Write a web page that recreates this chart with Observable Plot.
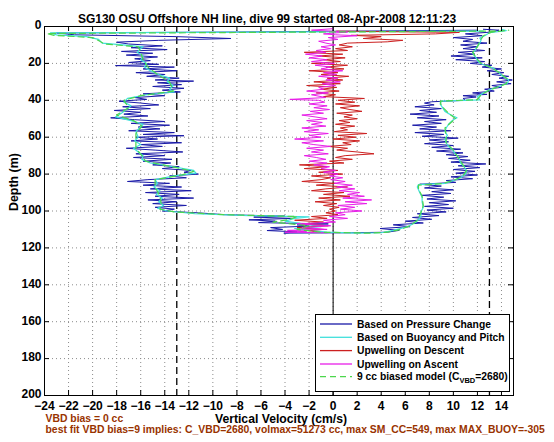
<!DOCTYPE html>
<html>
<head>
<meta charset="utf-8">
<script src="https://cdn.jsdelivr.net/npm/d3@7"></script>
<script src="https://cdn.jsdelivr.net/npm/@observablehq/plot@0.6"></script>
<style>
  html, body { margin: 0; padding: 0; background: #fff; }
  #wrap { position: relative; width: 554px; height: 442px; overflow: hidden; }
  #legend { position: absolute; left: 315px; top: 314px; }
</style>
</head>
<body>
<div id="wrap"><div id="chart"></div><svg id="legend" width="196" height="79"></svg></div>
<script>
// ---- text ----
const titleText = "SG130 OSU Offshore NH line, dive 99 started 08-Apr-2008 12:11:23";
const xLabel = "Vertical Velocity (cm/s)";
const yLabel = "Depth (m)";
const noteLines = ["VBD bias = 0 cc",
  "best fit VBD bias=9 implies: C_VBD=2680, volmax=51273 cc, max SM_CC=549, max MAX_BUOY=-305"];

// ---- axes ----
const xTicks = [-24,-22,-20,-18,-16,-14,-12,-10,-8,-6,-4,-2,0,2,4,6,8,10,12,14];
const yTicks = [0,20,40,60,80,100,120,140,160,180,200];
const xDomain = [-24, 15];
const yDomain = [0, 200];
const limitLines = [-13, 13];
const zeroLine = [0];

// ---- series: [depth (m), vertical velocity (cm/s)] in time order ----
const bluePts = [
 [2,12.0],[3,-8.0],[3.5,-23.0],[4.5,-21.5],[5.5,-13.0],[6.5,-8.5],[7.5,-14.5],[8.5,-18.0],[9.5,-17.0],[10.5,-14.2],
 [11.5,-16.8],[12.5,-13.8],[13.5,-17.6],[14.5,-15.0],[15.5,-17.2],[16.5,-14.6],[17.5,-16.5],[18.5,-15.2],[19.5,-17.0],[20.5,-14.5],
 [21.2,-18.1],[22,-13.2],[23,-15.8],[24,-13.0],[25,-16.4],[26,-14.0],[27,-15.5],[28,-12.8],[29,-14.8],[29.6,-11.6],
 [30.5,-14.6],[31.5,-12.6],[32.5,-15.0],[33.5,-12.4],[34.5,-14.2],[35.5,-12.7],[36.5,-15.8],[37.5,-14.0],[38.5,-16.5],[39.5,-15.5],
 [40.5,-17.8],[41.5,-16.0],[42.5,-14.5],[43.5,-17.5],[44.5,-15.2],[45.5,-18.2],[46.5,-16.0],[47.5,-17.4],[48.5,-15.4],[49.5,-18.5],
 [50.5,-16.5],[51.5,-14.0],[52.5,-16.8],[53.5,-13.6],[54.5,-16.2],[55.5,-14.4],[56.5,-17.0],[57.5,-13.2],[58.5,-15.8],[59.2,-12.4],
 [60,-16.4],[61,-14.6],[62,-16.8],[63,-12.6],[64,-16.0],[65,-14.2],[66,-17.2],[67,-14.8],[68,-12.5],[69,-16.4],
 [70,-14.0],[71,-16.6],[72,-13.4],[73,-15.8],[74,-13.5],[75,-15.0],[76,-12.8],[77,-14.2],[78,-11.8],[79,-12.4],
 [80,-11.2],[81,-13.6],[82,-12.2],[83,-15.4],[84,-17.1],[85,-13.6],[86,-15.8],[87,-12.6],[88,-15.2],[89,-11.8],
 [90,-15.6],[91,-12.8],[92,-14.8],[93,-11.6],[94,-15.4],[95,-13.0],[96,-15.0],[97,-12.2],[98,-14.8],[99,-13.2],
 [100,-14.2],[101,-11.2],[102,-9.0],[102.8,-4.0],[103.3,-6.6],[104,-3.4],[104.8,-7.0],[105.5,-4.8],[106.3,-6.2],[107,-0.4],
 [107.5,-3.0],[108.2,-2.0],[109,-5.2],[110,-4.2],[110.6,-5.5],[111.3,-3.0],[112,-4.1],[111.8,1.5],[111.5,4.5],[110.5,5.5],
 [109.5,3.9],[108.5,6.4],[107.5,5.0],[106.5,7.5],[105.5,6.0],[104.5,8.2],[103.5,6.6],[102.5,8.8],[101.5,7.0],[100.5,9.4],
 [99.5,7.8],[98.5,10.0],[97.5,7.6],[96.5,9.6],[95.5,8.0],[94.5,10.2],[93.5,7.8],[92.5,9.2],[91.5,7.4],[90.5,9.8],
 [89.5,8.2],[88.5,10.0],[87.5,7.6],[86.5,9.0],[85.5,7.2],[84.5,10.2],[83.5,9.4],[82.5,11.6],[81.5,9.8],[80.5,12.0],
 [79.5,10.2],[78.5,11.8],[77.5,10.0],[76.5,12.2],[75.5,10.4],[74.5,12.7],[73.5,9.8],[72.5,11.4],[71.5,9.6],[70.5,11.2],
 [69.5,9.4],[68.5,10.8],[67.5,8.6],[66.5,10.6],[65.5,8.2],[64.5,10.0],[63.5,7.6],[62.5,9.6],[61.5,8.0],[60.5,10.4],
 [59.5,7.4],[58.5,9.2],[57.5,6.8],[56.5,9.8],[55.5,7.2],[54.5,8.6],[53.5,6.6],[52.5,9.0],[51.5,7.6],[50.5,9.4],
 [49.5,7.0],[48.5,8.8],[47.5,6.4],[46.5,8.6],[45.5,7.2],[44.5,9.0],[43.5,6.8],[42.5,8.4],[41.5,7.6],[40.8,8.2],
 [40,11.0],[39,10.8],[38.2,11.9],[37.5,10.8],[36.8,12.8],[36,11.6],[35,13.4],[34,12.6],[33,14.0],[32,13.2],
 [31,14.8],[30,13.6],[29,14.9],[28,13.8],[27,14.6],[26,13.2],[25,14.2],[24,12.8],[23,14.0],[22,12.4],
 [21,13.2],[20,11.4],[19,12.6],[18,10.2],[17,12.4],[16,9.8],[15,11.8],[14,10.4],[13,12.6],[12,10.8],
 [11,12.0],[10,10.6],[9,12.8],[8,10.8],[7,11.6],[6,10.0],[5,12.4],[4,11.0],[3,13.2],[2,13.8],[1.5,12.5]
];
const cyanPts = [
 [2.5,12.5],[3.5,-23.5],[4.5,-23.0],[5.5,-20.5],[7,-19.5],[9,-19.2],[10,-17.5],[11,-15.8],[12,-16.0],[14,-16.3],
 [16,-15.8],[18,-16.0],[20,-15.5],[22,-15.7],[24,-15.2],[26,-14.5],[28,-13.6],[30,-13.8],[32,-13.3],[34,-13.6],
 [35.5,-13.2],[37,-15.5],[39,-17.1],[41,-17.4],[43,-16.8],[45,-17.2],[47,-17.6],[49,-18.1],[51,-16.8],[53,-15.8],
 [55,-16.1],[57,-16.4],[60,-16.2],[62,-16.5],[64,-16.0],[66,-16.6],[68,-16.2],[70,-15.8],[72,-15.9],[74,-15.2],
 [76,-13.3],[78,-11.6],[79.5,-11.4],[81,-13.2],[83,-14.8],[85,-14.6],[87,-14.9],[89,-14.4],[91,-14.7],[93,-14.2],
 [95,-14.5],[97,-14.1],[98.5,-14.6],[100,-13.8],[101.5,-11.5],[102.5,-7.0],[103.2,-2.0],[104,-3.2],[105.5,-4.0],[107,-2.5],
 [108.5,-1.0],[109.5,-3.2],[110.5,-2.0],[111.5,-0.5],[112,2.0],[111.8,4.0],[110.5,5.0],[108.5,6.2],[106,6.9],[103,7.3],
 [100.5,7.3],[98,7.5],[95,7.4],[92.5,7.4],[90,7.2],[87,7.0],[85.7,7.1],[85,9.3],[84,9.8],[82,10.6],
 [80,11.0],[78.5,11.1],[76,10.9],[74,10.6],[72,10.5],[70,10.3],[68.5,10.1],[66.5,9.9],[65,9.6],[63,9.4],
 [61,9.3],[59,9.5],[57,9.3],[55,9.4],[53,9.6],[51,9.9],[49.5,10.3],[48,9.8],[46,9.3],[44,9.1],
 [42,8.9],[40.5,9.0],[39.8,12.2],[38,12.0],[36,12.5],[34.3,13.0],[32.5,13.8],[30.7,14.5],[29,14.6],[28,14.4],
 [26.5,14.0],[25,13.8],[23.5,13.5],[22.5,13.3],[21,12.6],[19.8,12.2],[18.5,12.0],[17,11.9],[15.5,11.7],[14.3,11.6],
 [13,11.8],[11.6,11.9],[10,12.1],[8.9,12.2],[7.5,12.3],[6.2,12.2],[5,12.6],[3.4,13.0],[2.2,14.4],[1.6,14.0]
];
const redPts = [
 [2.5,0.3],[3.2,10.5],[4.0,8.5],[4.8,1.5],[5.5,4.0],[6.5,2.5],[7.5,5.8],[8.3,4.5],[9,1.2],[10,0.5],
 [11,1.6],[12,0.2],[13,1.2],[14,-2.4],[15,0.8],[16,-1.2],[17,1.0],[18,-0.8],[19,0.6],[20,-1.8],
 [21,1.2],[22,-0.6],[23,0.9],[24,-2.0],[25,0.4],[26,-1.0],[27,1.3],[28,-0.5],[29,0.8],[30,-1.6],
 [31,0.6],[32,-2.2],[33,0.3],[34,-1.0],[35,0.5],[36,-1.4],[37,0.2],[38,-0.8],[39,2.6],[40,0.4],
 [41,1.8],[42,0.2],[43,2.2],[44,0.6],[45,1.4],[46,2.4],[47,0.3],[48,1.6],[49,0.9],[50,2.0],
 [51,0.5],[52,1.4],[53,0.2],[54,1.8],[55,0.6],[56,1.2],[57,0.1],[58,2.8],[59,0.4],[60,1.9],
 [61,0.0],[62,2.2],[63,0.8],[64,1.5],[65,-0.4],[66,1.2],[67,0.3],[68,2.0],[69,3.4],[70,1.0],
 [71,0.2],[72,1.6],[73,-0.3],[74,0.9],[75,-2.8],[76,-0.5],[77,-2.4],[78,0.4],[79,-1.2],[80,0.8],
 [81,-1.8],[82,-0.2],[83,-1.0],[84,-2.6],[85,0.2],[86,-1.4],[87,1.2],[88,-0.6],[89,-1.8],[90,0.9],
 [91,-0.8],[92,1.4],[93,-1.2],[94,0.6],[95,-1.5],[96,0.3],[97,-0.8],[98,0.5],[99,-0.3],[100,0.2],
 [101,-0.6],[102,0.4],[103,-1.8],[104,-0.5],[105,-3.2],[106,-0.8],[107,-2.6],[108,-0.4],[109,-3.0],[110,-0.8],
 [110.5,-2.2],[111.2,-1.4]
];
const magentaPts = [
 [111.8,-0.5],[111.5,-4.0],[111,-2.2],[110.5,-3.8],[110,-0.5],[109,-2.6],[108,-0.2],[107,-3.0],[106,0.2],[105,-0.8],
 [104,1.2],[103,-0.3],[102,1.0],[101,0.2],[100,2.4],[99,0.6],[98,1.8],[97,0.4],[96,2.8],[95,1.0],
 [94,3.2],[93,0.8],[92,2.6],[91,1.2],[90,2.2],[89,0.5],[88,1.8],[87,0.3],[86,1.6],[85,0.1],
 [84,1.0],[83,-0.2],[82,0.8],[81,-0.3],[80,0.4],[79,-0.8],[78,0.2],[77,-1.0],[76,-0.3],[75,-1.6],
 [74,-0.5],[73,-2.0],[72,-0.6],[71,-1.4],[70,-2.4],[69,-0.4],[68,-1.8],[67,-0.8],[66,-2.2],[65,-0.2],
 [64,-1.6],[63,-2.6],[62,-0.8],[61,-3.2],[60,-1.0],[59,-2.0],[58,-0.4],[57,-2.4],[56,-1.2],[55,-2.6],
 [54,-0.6],[53,-1.8],[52,-0.9],[51,-2.2],[50,-0.5],[49,-1.5],[48,-2.6],[47,-0.8],[46,-1.9],[45,-0.3],
 [44,-1.6],[43,-0.5],[42,-2.0],[41,-0.7],[40,-1.2],[39.5,-3.6],[38.5,-0.6],[37,-1.8],[36,-0.4],[35,-2.2],
 [34,-0.8],[33,-1.2],[32,0.2],[31,-0.9],[30,0.6],[29,-0.6],[28,0.4],[27,-1.2],[26,0.3],[25,-0.8],
 [24,0.8],[23,-1.0],[22,-0.2],[21,-1.5],[20,0.1],[19,-1.8],[18,-0.5],[17,-2.0],[16,-0.9],[15,-2.3],
 [14,-0.6],[13,-1.4],[12,-0.2],[11,-1.0],[10,0.2],[9,-0.6],[8,-1.2],[7,0.4],[6,-0.4],[5,2.0],
 [4.5,0.2],[4,-0.8],[3,1.2],[2,-1.8],[1.2,0.0]
];
const greenPts = [
 [2.5,13.5],[3.8,-23.8],[4.8,-23.2],[6,-20.0],[8,-19.4],[9.5,-19.0],[11,-16.2],[14,-16.0],[18,-15.8],[22,-15.4],
 [26,-14.6],[30,-13.6],[35,-13.3],[37.5,-16.0],[40,-17.4],[44,-17.0],[48,-18.0],[51,-16.6],[54,-15.9],[58,-16.4],
 [62,-16.4],[66,-16.4],[70,-15.9],[73,-15.6],[76,-13.4],[78.5,-11.6],[80.5,-12.6],[83,-14.8],[87,-14.8],[92,-14.4],
 [96,-14.3],[99,-14.4],[100.5,-13.2],[102,-9.0],[103,-3.0],[104.5,-3.6],[106,-5.0],[108,-2.0],[110,-3.0],[111.5,-1.0],
 [112,3.0],[111.5,4.5],[110,5.6],[108,6.4],[105,7.0],[101,7.3],[97,7.5],[92,7.4],[88,7.1],[86,7.1],
 [85.2,9.0],[83.5,10.0],[81,10.8],[78,11.1],[75,10.8],[71,10.4],[67,10.0],[63,9.4],[59,9.4],[55,9.3],
 [52,9.8],[50,10.2],[47,9.6],[43,9.0],[40.5,8.9],[39.6,12.0],[37,12.3],[34.5,13.0],[31,14.4],[28.5,14.5],
 [25,13.8],[22,13.1],[20,12.3],[17,11.9],[14,11.6],[11,12.0],[8,12.2],[5,12.5],[3,13.2],[2,14.6]
];

// ---- legend ----
const legendLabels = ["Based on Pressure Change","Based on Buoyancy and Pitch","Upwelling on Descent","Upwelling on Ascent","9 cc biased model (C"];
const colors = {blue:"#1a1aa8", cyan:"#40e0dc", red:"#cc2020", magenta:"#e81ee8", green:"#4cd64c"};
const legendColors = [colors.blue, colors.cyan, colors.red, colors.magenta, colors.green];

const W = 554, H = 442, mL = 44, mR = 41, mT = 26, mB = 47;
const innerW = W - mL - mR, innerH = H - mT - mB;
const font = "'Liberation Sans', Arial, Helvetica, sans-serif";

const vx = d => d[1], dy = d => d[0];

const chart = Plot.plot({
  width: W, height: H,
  marginLeft: mL, marginRight: mR, marginTop: mT, marginBottom: mB,
  style: {fontFamily: font, fontWeight: "bold", background: "#fff", color: "#000"},
  x: {domain: xDomain},
  y: {domain: yDomain, reverse: true},
  marks: [
    Plot.ruleX(xTicks.slice(1), {x: d => d, stroke: "#8c8c8c", strokeOpacity: 1, strokeDasharray: "1,3"}),
    Plot.ruleY(yTicks.slice(1, -1), {y: d => d, stroke: "#8c8c8c", strokeOpacity: 1, strokeDasharray: "1,3"}),
    Plot.ruleX(limitLines, {x: d => d, stroke: "#000", strokeWidth: 1.3, strokeDasharray: "7,4"}),
    Plot.ruleX(zeroLine, {x: d => d, stroke: "#000", strokeWidth: 1}),
    Plot.line(bluePts, {x: vx, y: dy, stroke: colors.blue, strokeWidth: 1, curve: "linear"}),
    Plot.line(cyanPts, {x: vx, y: dy, stroke: colors.cyan, strokeWidth: 1.2, curve: "linear"}),
    Plot.line(redPts, {x: vx, y: dy, stroke: colors.red, strokeWidth: 1, curve: "linear"}),
    Plot.line(magentaPts, {x: vx, y: dy, stroke: colors.magenta, strokeWidth: 1, curve: "linear"}),
    Plot.line(greenPts, {x: vx, y: dy, stroke: colors.green, strokeWidth: 1.2, strokeDasharray: "6,4", curve: "linear"}),
    Plot.tickX(xTicks.slice(1), {x: d => d, insetBottom: innerH - 5, stroke: "#000"}),
    Plot.tickX(xTicks.slice(1), {x: d => d, insetTop: innerH - 5, stroke: "#000"}),
    Plot.tickY(yTicks.slice(1, -1), {y: d => d, insetRight: innerW - 5, stroke: "#000"}),
    Plot.tickY(yTicks.slice(1, -1), {y: d => d, insetLeft: innerW - 5, stroke: "#000"}),
    Plot.frame({stroke: "#000", strokeWidth: 1}),
    Plot.axisX({ticks: xTicks, tickSize: 0, tickPadding: 6, label: null, fontSize: 12}),
    Plot.axisY({ticks: yTicks, tickSize: 0, tickPadding: 3, label: null, fontSize: 12, dy: -1}),
    Plot.text([titleText], {text: d => d, frameAnchor: "top", dy: -12, dx: -12, fontSize: 12, fontWeight: "bold"}),
    Plot.text([xLabel], {text: d => d, frameAnchor: "bottom", dy: 27, dx: 2, fontSize: 12.2, fontWeight: "bold"}),
    Plot.text([yLabel], {text: d => d, frameAnchor: "left", rotate: -90, dx: -30, fontSize: 12.4, fontWeight: "bold"}),
    Plot.text([noteLines[0]], {text: d => d, frameAnchor: "bottom-left", textAnchor: "start", dx: 1, dy: 26, fontSize: 10.4, fill: "#993300"}),
    Plot.text([noteLines[1]], {text: d => d, frameAnchor: "bottom-left", textAnchor: "start", dx: 1, dy: 37.5, fontSize: 10.4, fill: "#993300"})
  ]
});
document.getElementById("chart").appendChild(chart);

// legend box
const lg = d3.select("#legend").style("font-family", font).style("font-weight", "bold");
lg.append("rect").attr("x", 0.5).attr("y", 0.5).attr("width", 194).attr("height", 77)
  .attr("fill", "#fff").attr("stroke", "#000");
const rowY = [10, 23.3, 36.6, 50, 62.7];
legendLabels.forEach((lab, i) => {
  lg.append("line").attr("x1", 5).attr("x2", 37).attr("y1", rowY[i]).attr("y2", rowY[i])
    .attr("stroke", legendColors[i]).attr("stroke-width", 1.3)
    .attr("stroke-dasharray", i === 4 ? "6,4" : null);
  const t = lg.append("text").attr("x", 42).attr("y", rowY[i]).attr("dy", "0.35em")
    .attr("font-size", 10.3).attr("fill", "#000").text(lab);
  if (i === 4) {
    t.append("tspan").attr("font-size", 7.5).attr("dy", 3).text("VBD");
    t.append("tspan").attr("dy", -3).text("=2680)");
  }
});
</script>
</body>
</html>
